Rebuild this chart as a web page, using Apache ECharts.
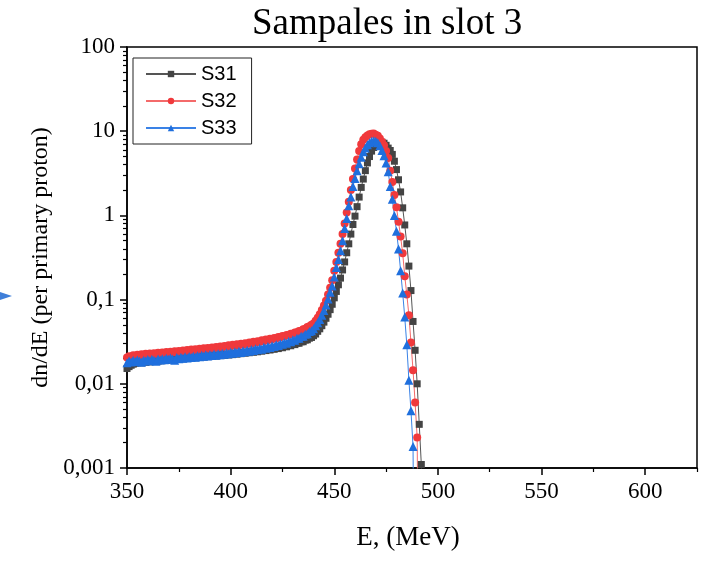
<!DOCTYPE html>
<html lang="en">
<head>
    <meta charset="utf-8">
    <title>Sampales in slot 3</title>
    <script src="https://cdn.jsdelivr.net/npm/echarts@6/dist/echarts.min.js"></script>
</head>
<body style="margin:0">
<div id="main" style="width: 717px;height:563px;"></div>
<script type="text/javascript">
    // energy bins, MeV
    var energy = [
        350,351,352,353,354,355,356,357,358,359,
        360,361,362,363,364,365,366,367,368,369,
        370,371,372,373,374,375,376,377,378,379,
        380,381,382,383,384,385,386,387,388,389,
        390,391,392,393,394,395,396,397,398,399,
        400,401,402,403,404,405,406,407,408,409,
        410,411,412,413,414,415,416,417,418,419,
        420,421,422,423,424,425,426,427,428,429,
        430,431,432,433,434,435,436,437,438,439,
        440,441,442,443,444,445,446,447,448,449,
        450,451,452,453,454,455,456,457,458,459,
        460,461,462,463,464,465,466,467,468,469,
        470,471,472,473,474,475,476,477,478,479,
        480,481,482,483,484,485,486,487,488,489,
        490,491,492,493
    ];
    var s31 = [
        0.0152,0.0160,0.0166,0.0171,0.0175,0.0178,0.0181,0.0177,0.0184,0.0180,
        0.0186,0.0182,0.0188,0.0184,0.0190,0.0186,0.0192,0.0188,0.0194,0.0190,
        0.0196,0.0192,0.0198,0.0194,0.0200,0.0196,0.0202,0.0198,0.0204,0.0200,
        0.0206,0.0202,0.0208,0.0204,0.0210,0.0206,0.0212,0.0208,0.0214,0.0210,
        0.0216,0.0212,0.0218,0.0214,0.0220,0.0216,0.0222,0.0218,0.0224,0.0220,
        0.0226,0.0222,0.0229,0.0225,0.0232,0.0228,0.0235,0.0231,0.0238,0.0234,
        0.0241,0.0237,0.0244,0.0240,0.0248,0.0244,0.0252,0.0248,0.0256,0.0252,
        0.0261,0.0257,0.0266,0.0262,0.0272,0.0268,0.0278,0.0275,0.0285,0.0283,
        0.0293,0.0292,0.0303,0.0303,0.0315,0.0316,0.0330,0.0333,0.0348,0.0355,
        0.0372,0.0390,0.0420,0.0450,0.0490,0.0540,0.0600,0.0670,0.0760,0.0880,
        0.105,0.125,0.150,0.180,0.225,0.280,0.360,0.460,0.600,0.780,
        0.980,1.27,1.65,2.15,2.70,3.40,4.20,5.00,5.80,6.40,
        6.90,7.30,7.50,7.40,7.20,6.80,6.30,5.90,5.30,4.40,
        3.50,2.65,1.90,1.23,0.770,0.460,0.250,0.128,0.055,0.025,
        0.010,0.0033,0.0011,0.000001
    ];
    var s32 = [
        0.0205,0.0213,0.0207,0.0218,0.0214,0.0222,0.0216,0.0225,0.0219,0.0227,
        0.0221,0.0229,0.0223,0.0231,0.0226,0.0233,0.0228,0.0236,0.0230,0.0238,
        0.0232,0.0240,0.0235,0.0243,0.0237,0.0246,0.0240,0.0249,0.0243,0.0252,
        0.0246,0.0255,0.0249,0.0258,0.0252,0.0261,0.0255,0.0264,0.0258,0.0267,
        0.0261,0.0270,0.0264,0.0274,0.0268,0.0278,0.0271,0.0282,0.0275,0.0286,
        0.0279,0.0290,0.0283,0.0294,0.0287,0.0299,0.0292,0.0304,0.0297,0.0309,
        0.0302,0.0315,0.0308,0.0321,0.0314,0.0328,0.0321,0.0335,0.0329,0.0343,
        0.0337,0.0351,0.0346,0.0360,0.0356,0.0370,0.0367,0.0381,0.0379,0.0394,
        0.0393,0.0408,0.0409,0.0425,0.0428,0.0446,0.0452,0.0472,0.0481,0.0503,
        0.0520,0.0560,0.0610,0.0670,0.0750,0.0850,0.0970,0.115,0.138,0.170,
        0.220,0.280,0.360,0.460,0.600,0.800,1.08,1.45,2.00,2.70,
        3.60,4.60,5.80,7.00,7.90,8.50,8.90,9.20,9.35,9.40,
        9.10,8.80,8.20,7.50,6.80,5.80,4.80,3.40,2.50,1.75,
        1.25,0.84,0.56,0.355,0.19,0.115,0.065,0.031,0.0145,0.0060,
        0.0023,0.000001,null,null
    ];
    var s33 = [
        0.0178,0.0186,0.0181,0.0190,0.0184,0.0192,0.0186,0.0180,0.0191,0.0187,
        0.0194,0.0188,0.0196,0.0190,0.0185,0.0197,0.0192,0.0199,0.0193,0.0201,
        0.0196,0.0203,0.0197,0.0190,0.0205,0.0199,0.0207,0.0201,0.0209,0.0203,
        0.0211,0.0205,0.0213,0.0207,0.0216,0.0209,0.0218,0.0212,0.0221,0.0214,
        0.0223,0.0217,0.0226,0.0219,0.0228,0.0222,0.0231,0.0224,0.0234,0.0227,
        0.0237,0.0230,0.0240,0.0233,0.0244,0.0236,0.0247,0.0240,0.0251,0.0244,
        0.0255,0.0248,0.0260,0.0253,0.0265,0.0258,0.0271,0.0264,0.0277,0.0270,
        0.0284,0.0277,0.0291,0.0285,0.0299,0.0294,0.0309,0.0304,0.0320,0.0316,
        0.0333,0.0330,0.0348,0.0347,0.0366,0.0368,0.0389,0.0394,0.0418,0.0426,
        0.0452,0.0490,0.0530,0.0580,0.0650,0.0740,0.0860,0.102,0.122,0.145,
        0.185,0.240,0.300,0.380,0.500,0.700,0.920,1.30,1.65,2.20,
        2.75,3.40,4.10,4.90,5.70,6.30,6.90,7.30,7.60,7.70,
        7.60,7.30,6.70,5.90,5.10,4.20,3.30,2.20,1.55,1.00,
        0.650,0.400,0.220,0.120,0.062,0.029,0.011,0.0048,0.0018,0.000001,
        null,null,null,null
    ];
    var xTicks = [350, 400, 450, 500, 550, 600];
    var xMinorTicks = [375, 425, 475, 525, 575, 625];
    var yTicks = [0.001, 0.01, 0.1, 1, 10, 100];
    var yMinorTicks = [
        0.002,0.003,0.004,0.005,0.006,0.007,0.008,0.009,
        0.02,0.03,0.04,0.05,0.06,0.07,0.08,0.09,
        0.2,0.3,0.4,0.5,0.6,0.7,0.8,0.9,
        2,3,4,5,6,7,8,9,
        20,30,40,50,60,70,80,90
    ];

    function pairs(vals) {
        var out = [];
        for (var i = 0; i < energy.length; i++) {
            if (vals[i] != null) out.push([energy[i], vals[i]]);
        }
        return out;
    }

    var serif = 'Liberation Serif';
    var myChart = echarts.init(document.getElementById('main'));
    var option = {
        animation: false,
        backgroundColor: '#fff',
        title: {
            text: 'Sampales in slot 3',
            left: 247,
            top: 1,
            textStyle: {fontFamily: serif, fontSize: 37, fontWeight: 'normal', color: '#000'}
        },
        legend: {
            orient: 'vertical',
            left: 133,
            top: 58,
            padding: [6, 15, 6, 12],
            borderColor: '#222',
            borderWidth: 1,
            borderRadius: 0,
            itemWidth: 50,
            itemHeight: 8,
            itemGap: 7,
            textStyle: {fontFamily: 'Liberation Sans', fontSize: 20, color: '#000'},
            data: ['S31', 'S32', 'S33']
        },
        grid: {
            left: 127, right: 20, top: 47, bottom: 95,
            show: true, borderColor: '#000', borderWidth: 1.5
        },
        xAxis: [{
            type: 'value',
            min: 350, max: 625,
            name: 'E, (MeV)',
            nameLocation: 'middle',
            nameGap: 56,
            nameTextStyle: {fontFamily: serif, fontSize: 27, color: '#000', padding: [0, 8, 0, 0]},
            axisLine: {lineStyle: {color: '#000', width: 1.5}},
            axisTick: {customValues: xTicks, length: 7, lineStyle: {color: '#000', width: 1.5}},
            axisLabel: {customValues: xTicks, margin: 12, fontFamily: serif, fontSize: 23, color: '#000'},
            splitLine: {show: false}
        }, {
            type: 'value',
            min: 350, max: 625,
            position: 'bottom',
            axisLine: {show: false},
            axisTick: {customValues: xMinorTicks, length: 4, lineStyle: {color: '#000', width: 1.2}},
            axisLabel: {show: false},
            splitLine: {show: false}
        }],
        yAxis: [{
            type: 'log',
            logBase: 10,
            min: 0.001, max: 100,
            name: 'dn/dE (per primary proton)',
            nameLocation: 'middle',
            nameGap: 72,
            nameTextStyle: {fontFamily: serif, fontSize: 24, color: '#000'},
            axisLine: {show: true, lineStyle: {color: '#000', width: 1.5}},
            axisTick: {show: true, customValues: yTicks, length: 7, lineStyle: {color: '#000', width: 1.5}},
            axisLabel: {
                customValues: yTicks,
                margin: 12,
                fontFamily: serif, fontSize: 23, color: '#000',
                formatter: function (v) { return String(+(+v).toPrecision(3)).replace('.', ','); }
            },
            splitLine: {show: false}
        }, {
            type: 'log',
            logBase: 10,
            min: 0.001, max: 100,
            position: 'left',
            axisLine: {show: false},
            axisTick: {show: true, customValues: yMinorTicks, length: 4, lineStyle: {color: '#000', width: 1.2}},
            axisLabel: {show: false},
            splitLine: {show: false}
        }],
        graphic: [{
            type: 'polygon',
            shape: {points: [[0, 292], [12, 296], [0, 300]]},
            style: {fill: '#3f7fd9'}
        }],
        series: [{
            name: 'S31',
            type: 'line',
            data: pairs(s31),
            symbol: 'rect',
            symbolSize: 7,
            clip: true,
            itemStyle: {color: '#444444'},
            lineStyle: {color: '#555555', width: 1}
        }, {
            name: 'S32',
            type: 'line',
            data: pairs(s32),
            symbol: 'circle',
            symbolSize: 8,
            clip: true,
            itemStyle: {color: '#f0393c'},
            lineStyle: {color: '#f46a6a', width: 1}
        }, {
            name: 'S33',
            type: 'line',
            data: pairs(s33),
            symbol: 'triangle',
            symbolSize: 9,
            clip: true,
            itemStyle: {color: '#1f6fdd'},
            lineStyle: {color: '#3a82e6', width: 1}
        }]
    };

    myChart.setOption(option);
</script>
</body>
</html>
